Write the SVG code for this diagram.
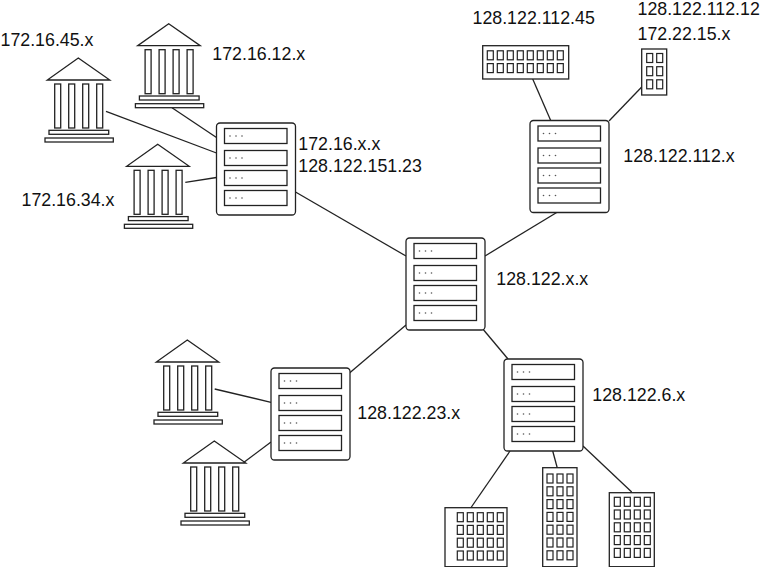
<svg xmlns="http://www.w3.org/2000/svg" xmlns:xlink="http://www.w3.org/1999/xlink" width="761" height="567" viewBox="0 0 761 567">
<style>
.l{font-family:"Liberation Sans",Arial,Helvetica,sans-serif;font-size:17.8px;fill:#111}
.s{fill:#fff;stroke:#222;stroke-width:1.3}
.d{fill:#fff;stroke:#222;stroke-width:1.2}
.c line{stroke:#222;stroke-width:1.3;fill:none}
.dot{fill:#555}
</style>
<defs>
<g id="slot"><rect class="s" x="0" y="0" width="62.5" height="15"/><circle class="dot" cx="5.5" cy="7.5" r=".8"/><circle class="dot" cx="11.5" cy="7.5" r=".8"/><circle class="dot" cx="17.5" cy="7.5" r=".8"/></g>
<g id="server"><rect class="s" x="0" y="0" width="79" height="92" rx="3.5"/><use xlink:href="#slot" href="#slot" x="8" y="5.5"/><use xlink:href="#slot" href="#slot" x="8" y="27.5"/><use xlink:href="#slot" href="#slot" x="8" y="47.5"/><use xlink:href="#slot" href="#slot" x="8" y="67.5"/></g>
<g id="bank"><path class="s" d="M0 0L31.5 22H-31Z"/><rect class="s" x="-23.6" y="26" width="6" height="44"/><rect class="s" x="-9.6" y="26" width="6" height="44"/><rect class="s" x="4.4" y="26" width="6" height="44"/><rect class="s" x="18.4" y="26" width="6" height="44"/><rect class="s" x="-29.3" y="72.3" width="59.7" height="4"/><rect class="s" x="-33.3" y="80" width="68.3" height="4"/></g>
<rect id="w" class="d" width="6" height="9"/>
<g id="row3"><use xlink:href="#w" href="#w" x="0"/><use xlink:href="#w" href="#w" x="10"/><use xlink:href="#w" href="#w" x="20"/></g>
<g id="row4"><use xlink:href="#row3" href="#row3"/><use xlink:href="#w" href="#w" x="30"/></g>
<g id="row5"><use xlink:href="#row4" href="#row4"/><use xlink:href="#w" href="#w" x="40"/></g>
<g id="row8"><use xlink:href="#row5" href="#row5"/><use xlink:href="#row3" href="#row3" x="50"/></g>
</defs>
<g id="connectors" class="c">
<line x1="106" y1="111.3" x2="216.5" y2="153"/>
<line x1="172" y1="107.7" x2="216.5" y2="137.5"/>
<line x1="185.3" y1="182.3" x2="216.5" y2="177.5"/>
<line x1="295.5" y1="192" x2="406" y2="256"/>
<line x1="556.7" y1="212.5" x2="485" y2="256"/>
<line x1="532.7" y1="79" x2="550.7" y2="120.5"/>
<line x1="641.7" y1="87" x2="609" y2="121"/>
<line x1="406" y1="325" x2="349.5" y2="373"/>
<line x1="482" y1="328" x2="508" y2="359"/>
<line x1="214.7" y1="389" x2="271" y2="402.3"/>
<line x1="243.3" y1="462.7" x2="271" y2="442"/>
<line x1="510" y1="451" x2="470.7" y2="508"/>
<line x1="552.7" y1="451" x2="557.3" y2="468"/>
<line x1="583" y1="446" x2="631.7" y2="492"/>
</g>
<g id="bank-172-16-45"><use xlink:href="#bank" href="#bank" x="78.3" y="58"/><text class="l" x="0.5" y="45.6">172.16.45.x</text></g>
<g id="bank-172-16-12"><use xlink:href="#bank" href="#bank" x="168.7" y="23.7"/><text class="l" x="212.3" y="60">172.16.12.x</text></g>
<g id="bank-172-16-34"><use xlink:href="#bank" href="#bank" x="157.7" y="144.3"/><text class="l" x="21.5" y="206">172.16.34.x</text></g>
<g id="server-172-16"><use xlink:href="#server" href="#server" x="216.5" y="123"/><text class="l" x="298.3" y="150">172.16.x.x</text><text class="l" x="298.3" y="172">128.122.151.23</text></g>
<g id="switch-128-122-112-45"><rect class="s" x="482.7" y="45.7" width="86" height="33.3"/><use xlink:href="#row8" href="#row8" x="487.3" y="50.8"/><use xlink:href="#row8" href="#row8" x="487.3" y="63.6"/><text class="l" x="472.5" y="23.7">128.122.112.45</text></g>
<g id="host-128-122-112-12"><rect class="s" x="641.7" y="49" width="25" height="46"/><use xlink:href="#w" href="#w" x="646.7" y="53.5"/><use xlink:href="#w" href="#w" x="656.7" y="53.5"/><use xlink:href="#w" href="#w" x="646.7" y="66.7"/><use xlink:href="#w" href="#w" x="656.7" y="66.7"/><use xlink:href="#w" href="#w" x="646.7" y="79.8"/><use xlink:href="#w" href="#w" x="656.7" y="79.8"/><text class="l" x="637.5" y="15.3">128.122.112.12</text><text class="l" x="637.5" y="40">172.22.15.x</text></g>
<g id="server-128-122-112"><use xlink:href="#server" href="#server" x="530" y="120.5"/><text class="l" x="623.3" y="161.7">128.122.112.x</text></g>
<g id="server-128-122"><use xlink:href="#server" href="#server" x="406" y="238"/><text class="l" x="496.3" y="285">128.122.x.x</text></g>
<g id="server-128-122-6"><use xlink:href="#server" href="#server" x="504" y="359"/><text class="l" x="592.3" y="401">128.122.6.x</text></g>
<g id="server-128-122-23"><use xlink:href="#server" href="#server" x="271" y="368"/><text class="l" x="357.3" y="419">128.122.23.x</text></g>
<g id="bank-23-a"><use xlink:href="#bank" href="#bank" x="187.3" y="340"/></g>
<g id="bank-23-b"><use xlink:href="#bank" href="#bank" x="214.3" y="441"/></g>
<g id="building-a"><rect class="s" x="445" y="507.7" width="62" height="59"/><use xlink:href="#row5" href="#row5" x="457.3" y="512.7"/><use xlink:href="#row5" href="#row5" x="457.3" y="525.4"/><use xlink:href="#row5" href="#row5" x="457.3" y="538.2"/><use xlink:href="#row5" href="#row5" x="457.3" y="551"/></g>
<g id="building-b"><rect class="s" x="542.7" y="467.7" width="34.3" height="99"/><use xlink:href="#row3" href="#row3" x="547" y="474"/><use xlink:href="#row3" href="#row3" x="547" y="486.8"/><use xlink:href="#row3" href="#row3" x="547" y="499.6"/><use xlink:href="#row3" href="#row3" x="547" y="512.4"/><use xlink:href="#row3" href="#row3" x="547" y="525.2"/><use xlink:href="#row3" href="#row3" x="547" y="538"/><use xlink:href="#row3" href="#row3" x="547" y="550.8"/></g>
<g id="building-c"><rect class="s" x="609.3" y="492.7" width="45" height="74"/><use xlink:href="#row4" href="#row4" x="614.3" y="497.3"/><use xlink:href="#row4" href="#row4" x="614.3" y="510"/><use xlink:href="#row4" href="#row4" x="614.3" y="522.8"/><use xlink:href="#row4" href="#row4" x="614.3" y="535.6"/><use xlink:href="#row4" href="#row4" x="614.3" y="548.4"/></g>
</svg>
